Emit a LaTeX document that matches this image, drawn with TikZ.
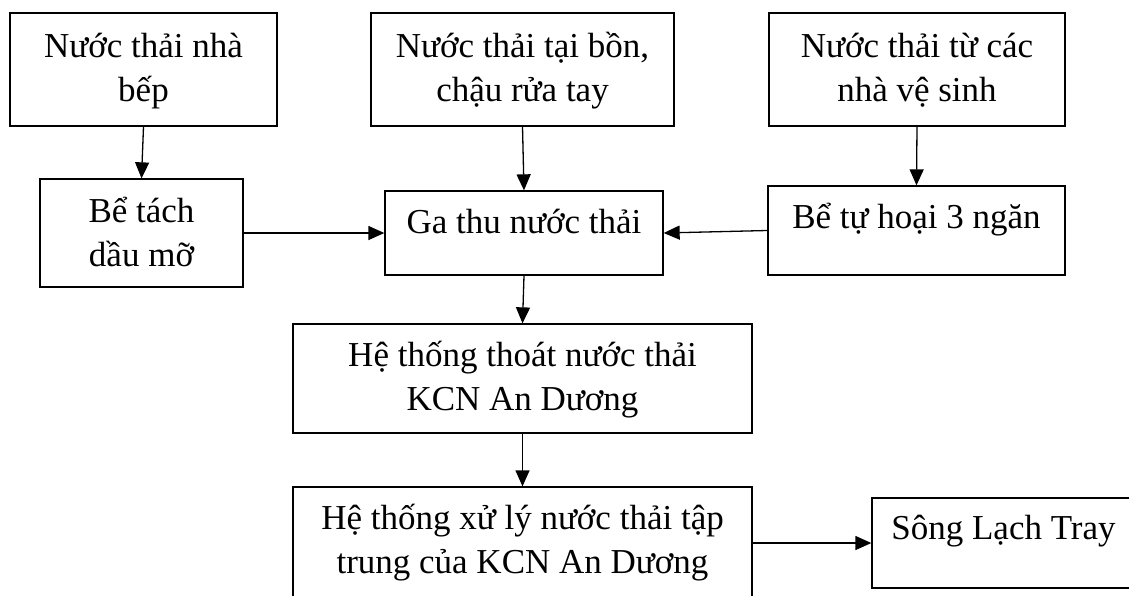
\documentclass[tikz,border=0pt]{standalone}
\usepackage{fontspec}
\setmainfont{Liberation Serif}
\usetikzlibrary{arrows.meta,calc}
% two centred lines whose baseline is the first line's baseline
\newcommand\stackedtext[2]{\begin{tabular}[t]{@{}c@{}}#1\\#2\end{tabular}}
\begin{document}
\begin{tikzpicture}[x=1pt,y=-1pt,
  box/.style={draw=black, line width=1.3pt, inner sep=0pt},
  txt/.style={anchor=base, inner sep=0pt, font=\fontsize{35}{44}\selectfont},
  flow/.style={draw=black, line width=1.3pt, -{Triangle[length=16pt,width=14pt]}}]
\clip (0,0) rectangle (1129,595);
\fill[white] (0,0) rectangle (1129,595);

% boxes
\node[box, minimum width=267pt, minimum height=113pt] (kitchen) at (143.5,69.5) {};
\node[box, minimum width=303pt, minimum height=113pt] (basin)   at (522.5,69.5) {};
\node[box, minimum width=296pt, minimum height=113pt] (toilet)  at (917,69.5) {};
\node[box, minimum width=203pt, minimum height=108pt] (grease)  at (141.5,233) {};
\node[box, minimum width=278pt, minimum height=84pt]  (pit)     at (524,233) {};
\node[box, minimum width=297pt, minimum height=89pt]  (septic)  at (916.5,230.5) {};
\node[box, minimum width=459pt, minimum height=109pt] (drain)   at (522.5,378.5) {};
\node[box, minimum width=459pt, minimum height=112pt] (plant)   at (522.5,543) {};
\node[box, minimum width=263pt, minimum height=90pt]  (river)   at (1003.5,543) {};

% labels
\node[txt] (kitchenT) at ($(kitchen.north)+(0,45)$) {\stackedtext{Nước thải nhà}{bếp}};
\node[txt] (basinT)   at ($(basin.north)+(0,45)$)   {\stackedtext{Nước thải tại bồn,}{chậu rửa tay}};
\node[txt] (toiletT)  at ($(toilet.north)+(0,45)$)  {\stackedtext{Nước thải từ các}{nhà vệ sinh}};
\node[txt] (greaseT)  at ($(grease.north)+(0,44)$)  {\stackedtext{Bể tách}{dầu mỡ}};
\node[txt] (pitT)     at ($(pit.north)+(0,43)$)     {Ga thu nước thải};
\node[txt] (septicT)  at ($(septic.north)+(0,43)$)  {Bể tự hoại 3 ngăn};
\node[txt] (drainT)   at ($(drain.north)+(0,43)$)   {\stackedtext{Hệ thống thoát nước thải}{KCN An Dương}};
\node[txt] (plantT)   at ($(plant.north)+(0,43)$)   {\stackedtext{Hệ thống xử lý nước thải tập}{trung của KCN An Dương}};
\node[txt] (riverT)   at ($(river.north)+(0,42)$)   {Sông Lạch Tray};

% flows
\draw[flow] (kitchen.south) -- (grease.north);
\draw[flow] (basin.south) -- (pit.north);
\draw[flow] (toilet.south) -- (septic.north);
\draw[flow] (grease.east) -- (pit.west);
\draw[flow] (septic.west) -- (pit.east);
\draw[flow] (pit.south) -- (drain.north);
\draw[flow] (drain.south) -- (plant.north);
\draw[flow] (plant.east) -- (river.west);
\end{tikzpicture}
\end{document}
